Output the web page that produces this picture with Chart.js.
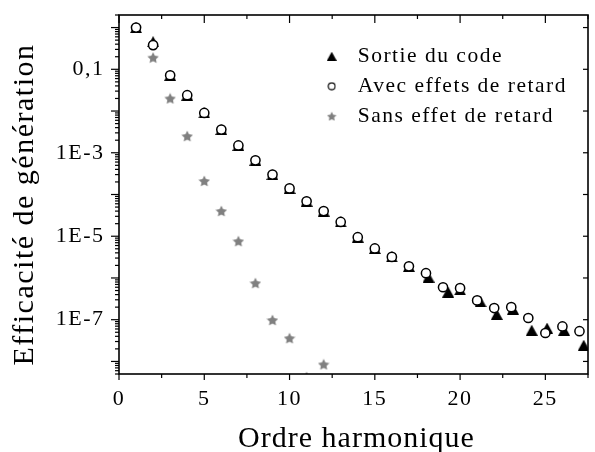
<!DOCTYPE html>
<html>
<head>
<meta charset="utf-8">
<script src="https://cdn.jsdelivr.net/npm/chart.js@4.4.1/dist/chart.umd.min.js"></script>
<style>
  html, body { margin: 0; padding: 0; background: #fff; }
  canvas { display: block; }
</style>
</head>
<body>
<canvas id="c" width="595" height="452"></canvas>
<script>
// Harmonic orders and generation efficiencies
const ordre = [1, 2, 3, 4, 5, 6, 7, 8, 9, 10, 11, 12, 13, 14, 15, 16, 17, 18, 19, 20, 21, 22, 23, 24, 25, 26, 27];
const avecRetard = [1.0, 0.38, 0.072, 0.024, 0.009, 0.0036, 0.0015, 6.6e-4, 3.0e-4, 1.4e-4, 6.9e-5, 4.0e-5,
  2.2e-5, 9.5e-6, 5.1e-6, 3.2e-6, 1.9e-6, 1.3e-6, 6.0e-7, 5.7e-7, 2.9e-7, 1.9e-7, 2.0e-7, 1.1e-7, 4.8e-8, 6.9e-8, 5.3e-8];

const ordreSortie = [1, 2, 3, 4, 5, 6, 7, 8, 9, 10, 11, 12, 13, 14, 15, 16, 17, 18.15, 19.3, 20, 21.2, 22.15, 23.1, 24.2, 25.1, 26.1, 27.25];
const sortieCode = [1.0, 0.46, 0.072, 0.024, 0.009, 0.0036, 0.0015, 6.6e-4, 3.0e-4, 1.4e-4, 6.9e-5, 4.0e-5,
  2.2e-5, 9.5e-6, 5.1e-6, 3.2e-6, 1.9e-6, 1.05e-6, 4.6e-7, 5.2e-7, 2.7e-7, 1.35e-7, 1.8e-7, 5.6e-8, 6.3e-8, 5.6e-8, 2.45e-8];

const ordreSans = [1, 2, 3, 4, 5, 6, 7, 8, 9, 10, 11, 12];
const sansRetard = [1.0, 0.19, 0.020, 2.5e-3, 2.1e-4, 4.0e-5, 7.6e-6, 7.5e-7, 9.8e-8, 3.6e-8, 4.2e-9, 8.5e-9];

const seriesNames = ['Sortie du code', 'Avec effets de retard', 'Sans effet de retard'];
const xTickValues = [0, 5, 10, 15, 20, 25];
const yTickValues = [1e-7, 1e-5, 1e-3, 0.1];
const yTickLabels = ['1E-7', '1E-5', '1E-3', '0,1'];
const xTitle = 'Ordre harmonique';
const yTitle = 'Efficacité de génération';

const FONT = "'Liberation Serif', 'Times New Roman', serif";
const STAR_GREY = '#808080';

// Marker sprites
function makeMark(w, h, paint) {
  const c = document.createElement('canvas');
  c.width = w; c.height = h;
  paint(c.getContext('2d'), w, h);
  return c;
}
function triangle(w, h) {
  return makeMark(w, h, (g) => {
    g.fillStyle = '#000';
    g.beginPath();
    g.moveTo(0, h); g.lineTo(w, h); g.lineTo(w / 2, 0);
    g.closePath(); g.fill();
  });
}
function star(s) {
  return makeMark(s, s, (g) => {
    const c = s / 2, R = s / 2, r = R * 0.5;
    g.fillStyle = STAR_GREY;
    g.beginPath();
    for (let i = 0; i < 10; i++) {
      const a = -Math.PI / 2 + i * Math.PI / 5;
      const rr = i % 2 === 0 ? R : r;
      g.lineTo(c + rr * Math.cos(a), c + 0.5 + rr * Math.sin(a));
    }
    g.closePath(); g.fill();
  });
}
function ring(s, lw) {
  return makeMark(s, s, (g) => {
    g.fillStyle = '#fff'; g.strokeStyle = '#000'; g.lineWidth = lw;
    g.beginPath(); g.arc(s / 2, s / 2, s / 2 - lw, 0, Math.PI * 2);
    g.fill(); g.stroke();
  });
}
const triMark = triangle(12, 11);
const starMark = star(12);
const legendMarks = [triangle(10, 9), ring(9, 1.1), star(10)];

const toPoints = (xs, ys) => xs.map((x, i) => ({ x, y: ys[i] }));

// Keeps the plot area exactly where the axes are fixed
function pinScale(size) {
  return (s) => {
    if (s.isHorizontal()) s.height = size; else s.width = size;
    s.paddingTop = s.paddingBottom = s.paddingLeft = s.paddingRight = 0;
  };
}

// Frame, tick marks and axis titles
const framePlugin = {
  id: 'frameAndTicks',
  afterLayout(chart) {
    const lg = chart.legend;
    lg.left = 308;
    lg.top = 37;
  },
  beforeDraw(chart) {
    chart.ctx.letterSpacing = '1.5px';
  },
  afterDraw(chart) {
    const ctx = chart.ctx;
    const { left, right, top, bottom } = chart.chartArea;
    const xs = chart.scales.x, ys = chart.scales.y;
    const seg = (x1, y1, x2, y2) => { ctx.beginPath(); ctx.moveTo(x1, y1); ctx.lineTo(x2, y2); ctx.stroke(); };
    ctx.save();
    ctx.strokeStyle = '#000';
    ctx.lineWidth = 1.2;
    for (let v = 0; v <= xs.max; v += 2.5) {
      const px = xs.getPixelForValue(v);
      const major = v % 5 === 0;
      seg(px, bottom, px, bottom + (major ? 6 : 4));
      seg(px, top, px, top + (major ? 8 : 4));
    }
    for (let e = -9; e <= 0; e++) {
      for (let k = 1; k <= 9; k++) {
        const v = k * Math.pow(10, e);
        if (v < ys.min || v > ys.max) continue;
        const py = ys.getPixelForValue(v);
        const major = k === 1;
        seg(left, py, left - (major ? 8 : 4), py);
        if (major) seg(right, py, right - 5, py);
      }
    }
    ctx.lineWidth = 1.6;
    ctx.strokeRect(left, top, right - left, bottom - top);

    ctx.fillStyle = '#000';
    ctx.font = '30px ' + FONT;
    ctx.textAlign = 'center';
    ctx.textBaseline = 'alphabetic';
    ctx.letterSpacing = '1px';
    ctx.fillText(xTitle, (left + right) / 2 + 3, 447);
    ctx.translate(33, (top + bottom) / 2 + 10);
    ctx.rotate(-Math.PI / 2);
    ctx.letterSpacing = '1.5px';
    ctx.fillText(yTitle, 0, 0);
    ctx.restore();
  }
};

Chart.defaults.font.family = FONT;
Chart.defaults.color = '#000';

new Chart(document.getElementById('c'), {
  type: 'scatter',
  data: {
    datasets: [
      {
        label: seriesNames[0],
        data: toPoints(ordreSortie, sortieCode),
        pointStyle: triMark,
        pointRadius: 6, pointHoverRadius: 6,
        order: 2, clip: 0
      },
      {
        label: seriesNames[1],
        data: toPoints(ordre, avecRetard),
        pointStyle: 'circle',
        pointRadius: 4.6, pointHoverRadius: 4.6,
        pointBorderWidth: 1.5,
        pointBackgroundColor: '#fff',
        pointBorderColor: '#000',
        order: 1, clip: 0
      },
      {
        label: seriesNames[2],
        data: toPoints(ordreSans, sansRetard),
        pointStyle: starMark,
        pointRadius: 6, pointHoverRadius: 6,
        order: 3, clip: 0
      }
    ]
  },
  options: {
    responsive: false,
    animation: false,
    devicePixelRatio: 1,
    events: [],
    layout: { padding: { left: 0, right: 2, top: 15, bottom: 0 } },
    scales: {
      x: {
        type: 'linear',
        min: 0, max: 27.5,
        afterBuildTicks: (s) => { s.ticks = xTickValues.map(v => ({ value: v })); },
        afterFit: pinScale(78),
        grid: { display: false, drawTicks: false },
        border: { display: false },
        ticks: { font: { size: 22 }, padding: 12, autoSkip: false, maxRotation: 0, color: '#000' }
      },
      y: {
        type: 'logarithmic',
        min: 5e-9, max: 2,
        afterBuildTicks: (s) => { s.ticks = yTickValues.map(v => ({ value: v })); },
        afterFit: pinScale(119),
        grid: { display: false, drawTicks: false },
        border: { display: false },
        ticks: {
          font: { size: 22 }, padding: 14.5, autoSkip: false, color: '#000',
          callback: (v, i) => yTickLabels[i]
        }
      }
    },
    plugins: {
      tooltip: { enabled: false },
      legend: {
        position: 'chartArea',
        align: 'start',
        labels: {
          usePointStyle: true,
          pointStyleWidth: 30.5,
          font: { size: 21.5 },
          color: '#000',
          padding: 8.5,
          generateLabels(chart) {
            const items = Chart.defaults.plugins.legend.labels.generateLabels(chart);
            items.sort((a, b) => a.datasetIndex - b.datasetIndex);
            items.forEach(it => { it.pointStyle = legendMarks[it.datasetIndex]; });
            return items;
          }
        }
      }
    }
  },
  plugins: [framePlugin]
});
</script>
</body>
</html>
